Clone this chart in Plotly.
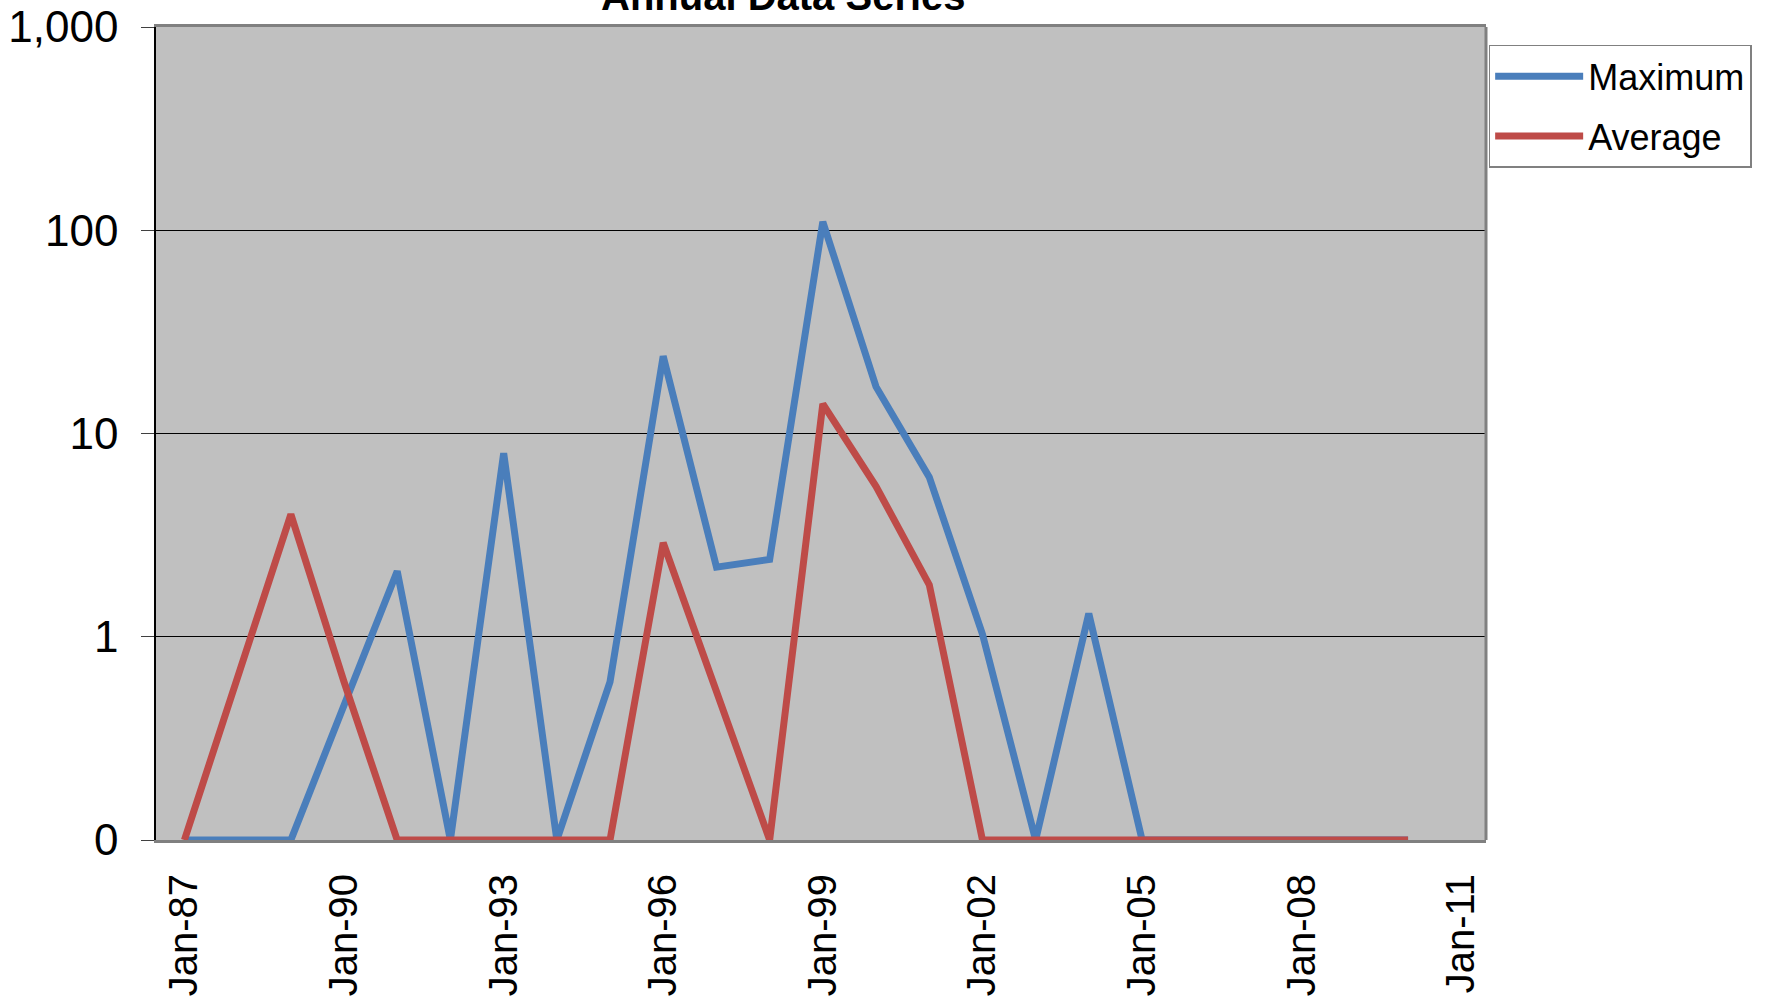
import plotly.graph_objects as go

years = list(range(1987, 2011))
dates = [f"{y}-01-01" for y in years]

maximum = [0.1, 0.1, 0.1, 0.46, 2.1, 0.1, 8.0, 0.1, 0.6, 24, 2.2, 2.4, 110, 17, 6.1, 1.03,
           0.1, 1.3, 0.1, 0.1, 0.1, 0.1, 0.1, 0.1]
average = [0.1, 0.63, 4.0, 0.6, 0.1, 0.1, 0.1, 0.1, 0.1, 2.9, 0.54, 0.1, 14, 5.5, 1.8, 0.1,
           0.1, 0.1, 0.1, 0.1, 0.1, 0.1, 0.1, 0.1]

y_tickvals = [0.1, 1, 10, 100, 1000]
y_ticktext = ["0", "1", "10", "100", "1,000"]
x_tickvals = [f"{y}-01-01" for y in range(1987, 2012, 3)]

FONT = "Arial, Liberation Sans, sans-serif"

fig = go.Figure()
fig.add_trace(go.Scatter(x=dates, y=maximum, mode="lines", name="Maximum",
                         line=dict(color="#4A7EBB", width=7), legendgroup="a"))
fig.add_trace(go.Scatter(x=dates, y=average, mode="lines", name="Average",
                         line=dict(color="#BE4B48", width=7), legendgroup="b"))

fig.update_layout(
    width=1775, height=999,
    paper_bgcolor="white", plot_bgcolor="#C0C0C0",
    margin=dict(l=156, r=289, t=27, b=159, autoexpand=False),
    font=dict(family=FONT, color="black"),
    legend=dict(x=1.002, y=0.978, xanchor="left", yanchor="top",
                font=dict(size=36, family=FONT), bordercolor="#808080", borderwidth=1.5,
                bgcolor="white", tracegroupgap=10, itemwidth=88),
    showlegend=True,
    annotations=[dict(text="<b>Annual Data Series</b>", xref="paper", yref="paper",
                      x=(783 - 156) / 1330, y=(840 + 4) / 813, xanchor="center",
                      yanchor="middle", showarrow=False,
                      font=dict(size=40, family=FONT, color="black"))],
    shapes=[dict(type="line", xref="paper", yref="paper", x0=1, x1=1, y0=0, y1=1,
                 line=dict(color="#808080", width=3))],
)

fig.update_yaxes(type="log", range=[-1, 3], tickvals=y_tickvals, ticktext=y_ticktext,
                 showgrid=True, gridcolor="black", gridwidth=1,
                 ticks="outside", ticklen=13, tickcolor="#404040", tickwidth=1,
                 ticklabelstandoff=14,
                 tickfont=dict(size=44, family=FONT),
                 showline=True, linecolor="black", linewidth=1.5, mirror=False,
                 zeroline=False, automargin=False)
fig.update_xaxes(type="date", range=["1986-06-20", "2011-06-20"], tickvals=x_tickvals,
                 tickformat="%b-%y", tickangle=-90, showgrid=False,
                 ticks="", ticklabelstandoff=15,
                 tickfont=dict(size=40, family=FONT),
                 showline=True, linecolor="#808080", linewidth=3, mirror=True,
                 zeroline=False, automargin=False)

fig.write_html("out.html", config={"displayModeBar": False},
               post_script="document.body.style.margin='0';")
